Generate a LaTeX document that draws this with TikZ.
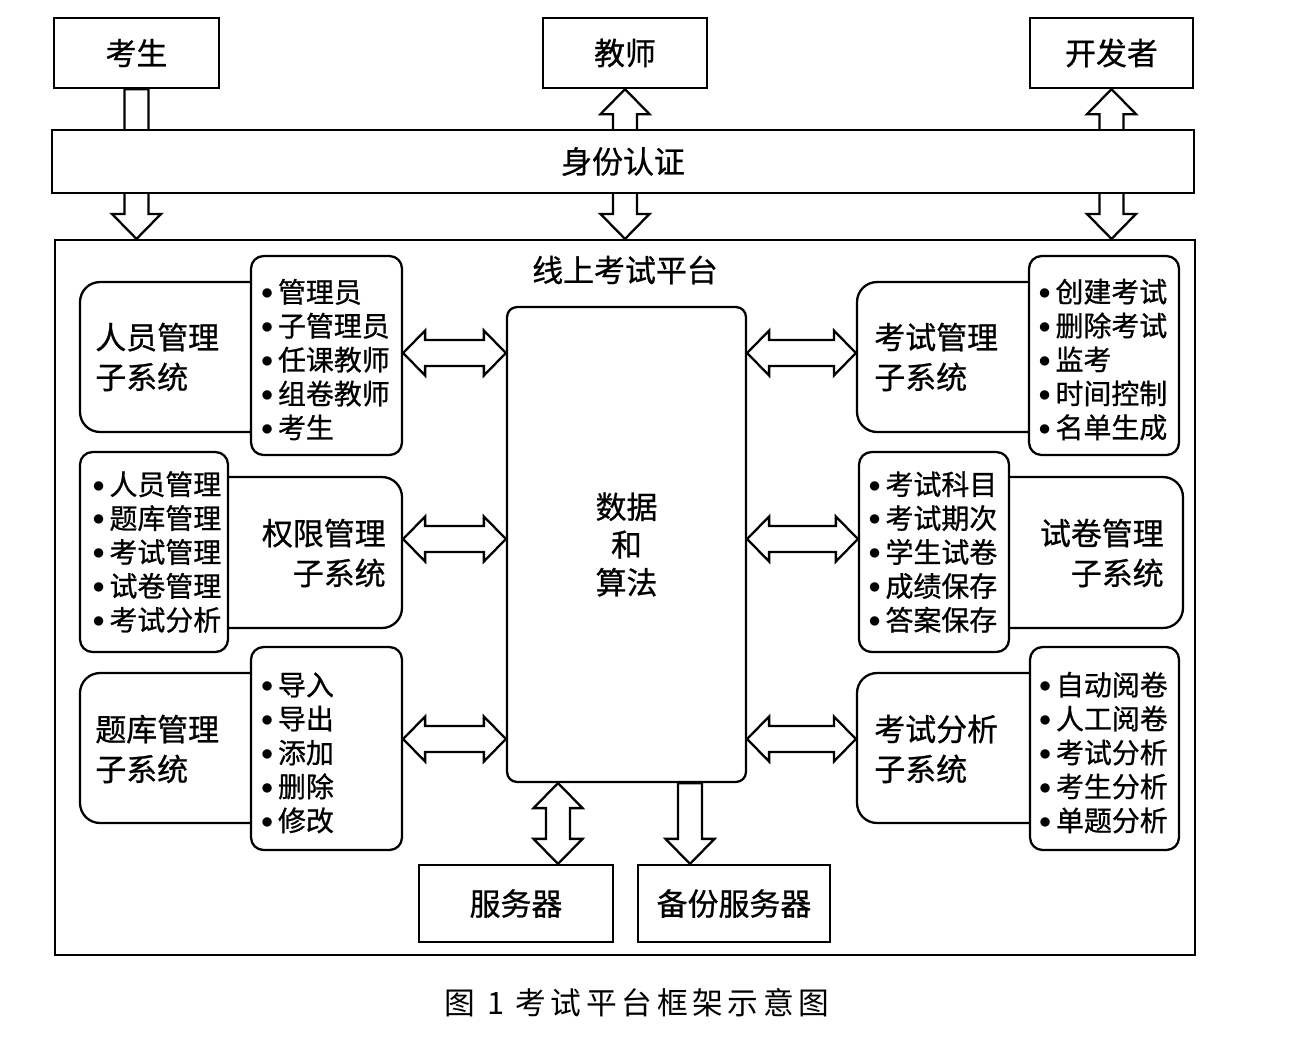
\documentclass[tikz,border=0pt]{standalone}
\usepackage{fontspec}
\setmainfont{Noto Sans CJK SC}[FakeBold=0.8]
\newfontfamily\capfont{Noto Sans CJK SC}[LetterSpace=15]
\usetikzlibrary{calc}
\newcommand\bigf{\fontsize{17.6pt}{22.7pt}\selectfont}
\newcommand\listf{\fontsize{15.9pt}{19.3pt}\selectfont}
\newcommand\bul{\makebox[0.34cm][l]{\raisebox{0.1em}{\scalebox{0.8}{$\bullet$}}}}
% horizontal double block arrow between two named coordinates
\newcommand{\harr}[2]{%
 \draw[blk] (#1) -- ++(22,-22.5) -- ++(0,9.5) -- ($(#2)+(-22,-13)$) -- ++(0,-9.5) -- (#2)
   -- ++(-22,22.5) -- ++(0,-9.5) -- ($(#1)+(22,13)$) -- ++(0,9.5) -- cycle;}
% vertical double block arrow
\newcommand{\varr}[2]{%
 \draw[blk] (#1) -- ++(24.5,25) -- ++(-12.5,0) -- ($(#2)+(12,-25)$) -- ++(12.5,0) -- (#2)
   -- ++(-24.5,-25) -- ++(12.5,0) -- ($(#1)+(-12,25)$) -- ++(-12.5,0) -- cycle;}
% vertical single (downward) block arrow
\newcommand{\sdarr}[2]{%
 \draw[blk] ($(#1)+(-12,0)$) -- ($(#1)+(12,0)$) -- ($(#2)+(12,-25)$) -- ++(12.5,0) -- (#2)
   -- ++(-24.5,-25) -- ++(12.5,0) -- cycle;}
\tikzset{
 box/.style={draw, line width=1.3pt, fill=white, inner sep=0pt},
 rbox/.style={box, rounded corners=0.4cm},
 lbox/.style={box, rounded corners=0.25cm, align=left, text width=2.62cm, font=\listf},
 lab/.style={inner sep=0pt, font=\bigf},
 blk/.style={draw, line width=1.3pt, fill=white, line join=miter}
}
\newcommand\fl{\rule{0pt}{18pt}}
\begin{document}
\begin{tikzpicture}[x=0.02cm, y=-0.02cm]
\useasboundingbox (0,0) rectangle (1294,1039);
% top actors
\node[box, minimum width=3.3cm, minimum height=1.4cm, font=\bigf] (ks) at (136.5,53) {考生};
\node[box, minimum width=3.28cm, minimum height=1.4cm, font=\bigf] (js) at (625,53) {教师};
\node[box, minimum width=3.26cm, minimum height=1.4cm, font=\bigf] (kf) at (1111.5,53) {开发者};
% platform
\node[box, minimum width=22.8cm, minimum height=14.3cm] (plat) at (625,597.5) {};
\node[lab] (title) at (625,270) {线上考试平台};
% arrows through authentication bar
\path (ks.south |- plat.north) coordinate (ksb)
      (js.south |- plat.north) coordinate (jsb)
      (kf.south |- plat.north) coordinate (kfb);
\sdarr{ks.south}{ksb}
\varr{js.south}{jsb}
\varr{kf.south}{kfb}
\node[box, minimum width=22.84cm, minimum height=1.26cm, font=\bigf] (auth) at (623,161.5) {身份认证};
% core
\node[box, rounded corners=0.2cm, minimum width=4.78cm, minimum height=9.5cm, align=center,
      font=\fontsize{17.6pt}{21.5pt}\selectfont] (core) at (626.5,544.5) {数据\\和\\算法};
% left group 1
\node[rbox, minimum width=4.4cm, minimum height=3cm] (m1) at (190,357) {};
\node[lab, anchor=west, align=left] (t1) at (95,357) {人员管理\\子系统};
\node[lbox, minimum width=3.02cm, minimum height=3.98cm] (l1) at (326.5,355.5)
  {\fl\bul 管理员\\\bul 子管理员\\\bul 任课教师\\\bul 组卷教师\\\bul 考生};
% left group 2
\node[rbox, minimum width=4.44cm, minimum height=3.02cm] (m2) at (291,552.5) {};
\node[lab, anchor=east, align=right] (t2) at (386,553) {权限管理\\子系统};
\node[lbox, minimum width=2.96cm, minimum height=4cm, text width=2.46cm] (l2) at (154,552)
  {\bul 人员管理\\\bul 题库管理\\\bul 考试管理\\\bul 试卷管理\\\bul 考试分析};
% left group 3
\node[rbox, minimum width=4.4cm, minimum height=3cm] (m3) at (190,748) {};
\node[lab, anchor=west, align=left] (t3) at (95,749) {题库管理\\子系统};
\node[lbox, minimum width=3.02cm, minimum height=4.06cm] (l3) at (326.5,748.5)
  {\fl\bul 导入\\\bul 导出\\\bul 添加\\\bul 删除\\\bul 修改};
% right group 1
\node[rbox, minimum width=4.46cm, minimum height=3cm] (m4) at (968.5,357) {};
\node[lab, anchor=west, align=left] (t4) at (874,357) {考试管理\\子系统};
\node[lbox, minimum width=3.0cm, minimum height=3.98cm] (l4) at (1104,355.5)
  {\fl\bul 创建考试\\\bul 删除考试\\\bul 监考\\\bul 时间控制\\\bul 名单生成};
% right group 2
\node[rbox, minimum width=4.46cm, minimum height=3.02cm] (m5) at (1071.5,552.5) {};
\node[lab, anchor=east, align=right] (t5) at (1164,553) {试卷管理\\子系统};
\node[lbox, minimum width=3.0cm, minimum height=4cm] (l5) at (934,552)
  {\bul 考试科目\\\bul 考试期次\\\bul 学生试卷\\\bul 成绩保存\\\bul 答案保存};
% right group 3
\node[rbox, minimum width=4.46cm, minimum height=3cm] (m6) at (968.5,748) {};
\node[lab, anchor=west, align=left] (t6) at (874,749) {考试分析\\子系统};
\node[lbox, minimum width=2.98cm, minimum height=4.06cm] (l6) at (1104.5,748.5)
  {\fl\bul 自动阅卷\\\bul 人工阅卷\\\bul 考试分析\\\bul 考生分析\\\bul 单题分析};
% servers
\node[box, minimum width=3.88cm, minimum height=1.54cm, font=\bigf] (fw) at (516,903.5) {服务器};
\node[box, minimum width=3.84cm, minimum height=1.54cm, font=\bigf] (bf) at (734,903.5) {备份服务器};
% horizontal arrows
\coordinate (r1) at (0,353);
\coordinate (r2) at (0,539);
\coordinate (r3) at (0,739);
\path (l1.east |- r1) coordinate (h1a) (core.west |- r1) coordinate (h1b)
      (m2.east |- r2) coordinate (h2a) (core.west |- r2) coordinate (h2b)
      (l3.east |- r3) coordinate (h3a) (core.west |- r3) coordinate (h3b)
      (core.east |- r1) coordinate (h4a) (m4.west |- r1) coordinate (h4b)
      (core.east |- r2) coordinate (h5a) (l5.west |- r2) coordinate (h5b)
      (core.east |- r3) coordinate (h6a) (m6.west |- r3) coordinate (h6b);
\harr{h1a}{h1b}
\harr{h2a}{h2b}
\harr{h3a}{h3b}
\harr{h4a}{h4b}
\harr{h5a}{h5b}
\harr{h6a}{h6b}
% bottom arrows
\coordinate (c1) at (558,0);
\coordinate (c2) at (690,0);
\path (c1 |- core.south) coordinate (v1a) (c1 |- fw.north) coordinate (v1b)
      (c2 |- core.south) coordinate (v2a) (c2 |- bf.north) coordinate (v2b);
\varr{v1a}{v1b}
\sdarr{v2a}{v2b}
% caption
\node[inner sep=0pt, font=\capfont\fontsize{17.5pt}{20pt}\selectfont] (cap) at (637,1003) {图 1 考试平台框架示意图};
\end{tikzpicture}
\end{document}
